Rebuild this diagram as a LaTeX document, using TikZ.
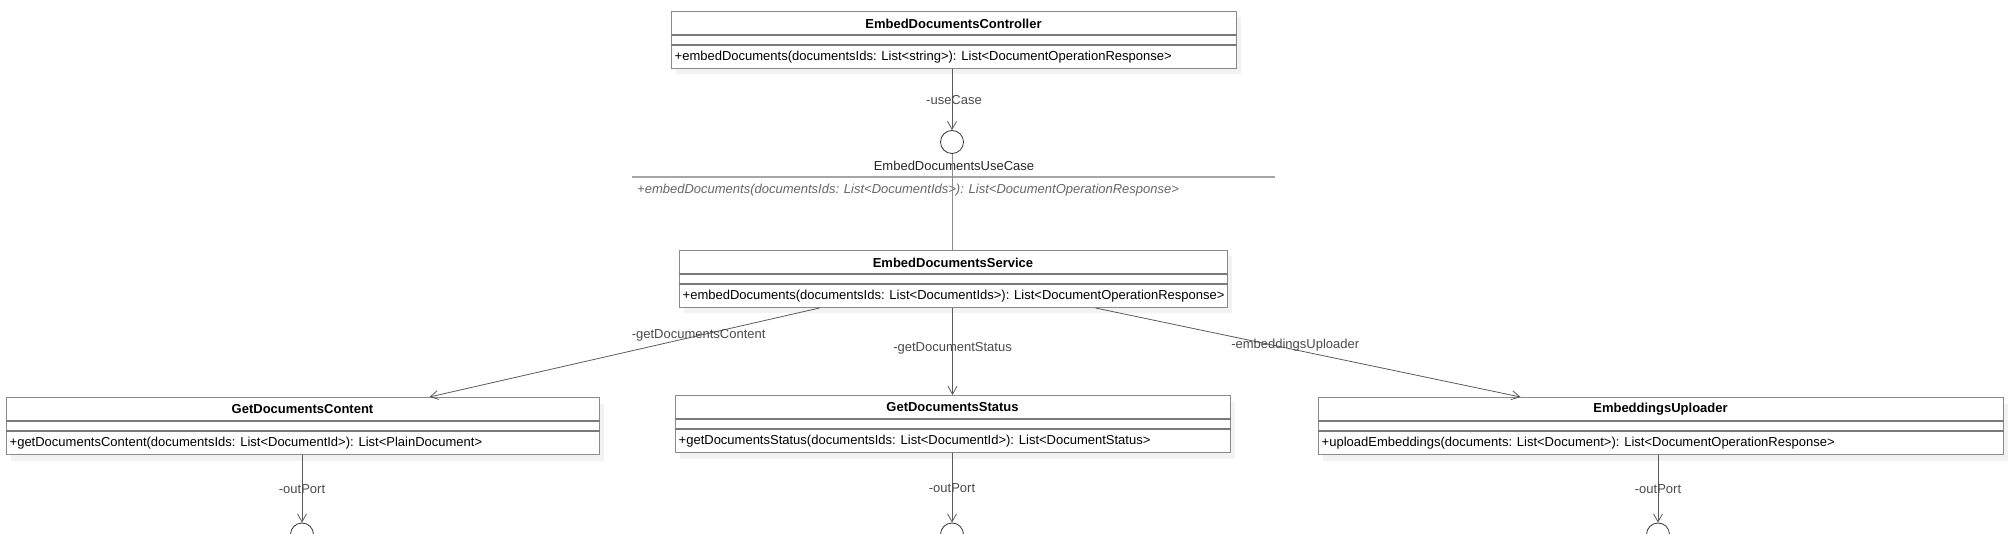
\documentclass[tikz,border=0pt]{standalone}
\usepackage{fontspec}
\setmainfont{Liberation Sans}
\usetikzlibrary{%
    arrows.meta,
    calc,
    positioning,
    shadows
}

\definecolor{boxgray}{HTML}{8A8A8A}
\definecolor{sepgray}{HTML}{7A7A7A}
\definecolor{linegray}{HTML}{5A5A5A}
\definecolor{rolegray}{HTML}{4A4A4A}

\tikzset{
    classbox/.style={draw=boxgray, fill=white, line width=1pt, inner sep=0pt,
                     minimum height=57pt,
                     drop shadow={shadow xshift=5pt, shadow yshift=-6pt,
                                  fill=black!5, opacity=1}},
    classtitle/.style={font=\bfseries\fontsize{13}{15}\selectfont, inner sep=0pt},
    classop/.style={font=\fontsize{13}{15}\selectfont, anchor=west, inner sep=0pt},
    sepline/.style={draw=sepgray, line width=2pt},
    role/.style={font=\fontsize{13}{15}\selectfont, text=rolegray, inner sep=0pt},
    assoc/.style={draw=linegray, line width=.8pt,
                  -{Straight Barb[length=8pt, width=9pt]}},
    lollipop/.style={circle, draw=black!80, line width=.8pt, fill=white,
                     minimum size=23pt, inner sep=0pt}
}

% #1 name, #2 centre x, #3 top y, #4 width, #5 title, #6 operation
\newcommand{\umlclass}[6]{%
    \node[classbox, minimum width=#4pt, anchor=north] (#1) at (#2,#3) {};
    \node[classtitle] (#1-title) at ($(#1.north)+(0,12.5)$) {#5};
    \draw[sepline] ($(#1.north west)+(0,24)$) -- ($(#1.north east)+(0,24)$);
    \draw[sepline] ($(#1.north west)+(0,34)$) -- ($(#1.north east)+(0,34)$);
    \node[classop] (#1-op) at ($(#1.south west)+(4,-11.5)$) {#6};
}

\begin{document}
\begin{tikzpicture}[x=1pt, y=-1pt]
    \useasboundingbox (0,0) rectangle (2009,534);

    \umlclass{ctrl}{953.5}{11}{565}{EmbedDocumentsController}%
        {+embedDocuments(documentsIds: List<string>): List<DocumentOperationResponse>}
    \umlclass{service}{953}{250}{548}{EmbedDocumentsService}%
        {+embedDocuments(documentsIds: List<DocumentIds>): List<DocumentOperationResponse>}
    \umlclass{content}{302.5}{397}{593}{GetDocumentsContent}%
        {+getDocumentsContent(documentsIds: List<DocumentId>): List<PlainDocument>}
    \umlclass{status}{952.5}{395}{555}{GetDocumentsStatus}%
        {+getDocumentsStatus(documentsIds: List<DocumentId>): List<DocumentStatus>}
    \umlclass{uploader}{1660.5}{397}{685}{EmbeddingsUploader}%
        {+uploadEmbeddings(documents: List<Document>): List<DocumentOperationResponse>}

    % interface EmbedDocumentsUseCase
    \node[lollipop] (usecase) at (952,142) {};
    \node[font=\fontsize{13}{15}\selectfont, text=black!85, inner sep=0pt]
        (usecase-name) at (954,166) {EmbedDocumentsUseCase};
    \coordinate (usecase-l) at (632,177);
    \coordinate (usecase-r) at (1275,177);
    \draw[black!35, line width=1.2pt] (usecase-l) -- (usecase-r);
    \node[font=\itshape\fontsize{13}{15}\selectfont, text=black!60,
          anchor=west, inner sep=0pt] (usecase-op) at (637,190)
        {+embedDocuments(documentsIds: List<DocumentIds>): List<DocumentOperationResponse>};

    \draw[assoc] (ctrl.south -| usecase) -- (usecase)
        node[role, pos=.5, xshift=2pt] {-useCase};
    \draw[draw=black!45, line width=.8pt] (usecase) -- (service.north -| usecase);

    \draw[assoc] ([xshift=141pt]service.south west) -- ([xshift=424pt]content.north west)
        node[role, pos=.31] {-getDocumentsContent};
    \draw[assoc] (service.south -| status) -- (status)
        node[role, pos=.5, yshift=3pt] {-getDocumentStatus};
    \draw[assoc] ([xshift=417pt]service.south west) -- ([xshift=203pt]uploader.north west)
        node[role, pos=.47, yshift=5pt] {-embeddingsUploader};

    \foreach \cls/\cx in {content/302, status/952, uploader/1658} {
        \node[lollipop] (\cls-port) at (\cx,534.5) {};
        \draw[assoc] (\cls-port |- \cls.south) -- (\cls-port)
            node[role, pos=.5] {-outPort};
    }
\end{tikzpicture}
\end{document}
